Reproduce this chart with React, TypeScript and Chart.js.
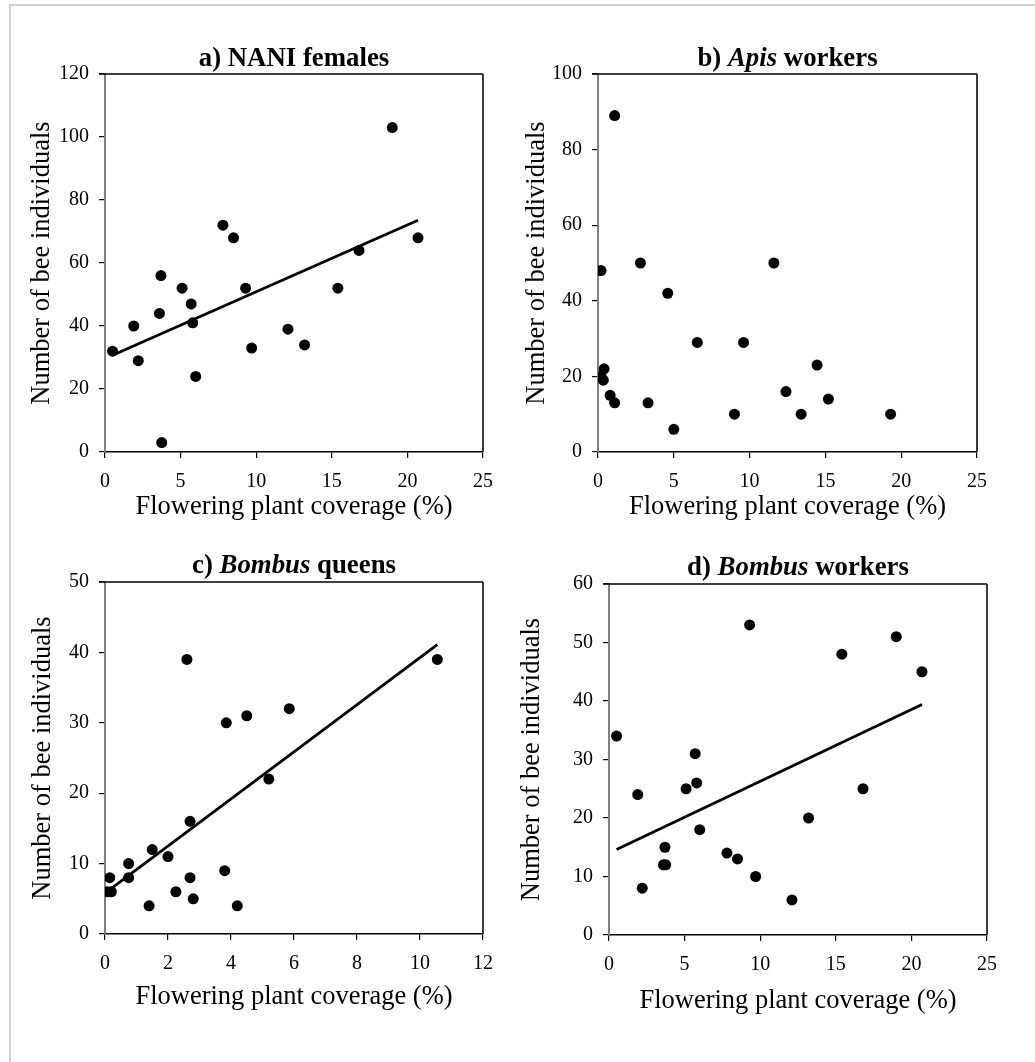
import React, { useEffect, useRef } from "react";
import { Chart, registerables } from "chart.js";

Chart.register(...registerables);

const SERIF = "'Liberation Serif', 'Times New Roman', Times, serif";

// ---------- Data ----------
// Flowering plant coverage (%) for the sites in panels a) and d)
const coverageAD = [0.5, 1.9, 2.2, 3.6, 3.7, 3.75, 5.1, 5.7, 5.8, 6.0, 7.8, 8.5, 9.3, 9.7, 12.1, 13.2, 15.4, 16.8, 19.0, 20.7];
const naniFemales = [32, 40, 29, 44, 56, 3, 52, 47, 41, 24, 72, 68, 52, 33, 39, 34, 52, 64, 103, 68];
const bombusWorkers = [34, 24, 8, 12, 15, 12, 25, 31, 26, 18, 14, 13, 53, 10, 6, 20, 48, 25, 51, 45];

const coverageB = [1.1, 0.2, 2.8, 4.6, 11.6, 6.55, 9.6, 14.45, 0.4, 0.2, 0.35, 0.8, 1.1, 3.3, 5.0, 9.0, 12.4, 13.4, 15.2, 19.3];
const apisWorkers = [89, 48, 50, 42, 50, 29, 29, 23, 22, 20, 19, 15, 13, 13, 6, 10, 16, 10, 14, 10];

const coverageC = [2.6, 10.55, 3.85, 4.5, 5.85, 5.2, 2.7, 1.5, 2.0, 0.75, 0.15, 0.75, 0.07, 0.2, 2.7, 3.8, 2.25, 2.8, 1.4, 4.2];
const bombusQueens = [39, 39, 30, 31, 32, 22, 16, 12, 11, 10, 8, 8, 6, 6, 8, 9, 6, 5, 4, 4];

// Regression lines (end points)
const trendAX = [0.5, 20.7];
const trendAY = [30.7, 73.6];
const trendCX = [0.15, 10.55];
const trendCY = [6.3, 41.1];
const trendDX = [0.5, 20.7];
const trendDY = [14.6, 39.4];

// Axis ranges / ticks
const xTicksAD = { max: 25, step: 5 };
const xTicksC = { max: 12, step: 2 };
const yTicksA = { max: 120, step: 20 };
const yTicksB = { max: 100, step: 20 };
const yTicksC = { max: 50, step: 10 };
const yTicksD = { max: 60, step: 10 };

const xAxisTitle = "Flowering plant coverage (%)";
const yAxisTitle = "Number of bee individuals";

const titleA = [{ text: "a) NANI females", italic: false }];
const titleB = [
  { text: "b) ", italic: false },
  { text: "Apis", italic: true },
  { text: " workers", italic: false },
];
const titleC = [
  { text: "c) ", italic: false },
  { text: "Bombus", italic: true },
  { text: " queens", italic: false },
];
const titleD = [
  { text: "d) ", italic: false },
  { text: "Bombus", italic: true },
  { text: " workers", italic: false },
];

// ---------- Layout ----------
const W = 1035;
const H = 1062;
const AXIS_TITLE_SIZE = 26.5;
const TITLE_SIZE = 26.8;

type Seg = { text: string; italic: boolean };
type PanelProps = {
  xs: number[];
  ys: number[];
  trendX?: number[];
  trendY?: number[];
  xt: { max: number; step: number };
  yt: { max: number; step: number };
  title: Seg[];
  box: { L: number; T: number; R: number; B: number };
  titleBaseline: number;
  yTitleX: number;
  xTitleY: number;
};

function Panel(p: PanelProps) {
  const ref = useRef<HTMLCanvasElement | null>(null);
  useEffect(() => {
    if (!ref.current) return;
    const { L, T, R, B } = p.box;
    const yW = 100;
    const xH = 90;
    const PL = L - yW;
    const lh = AXIS_TITLE_SIZE * 1.2;
    const yTitlePad = p.yTitleX - PL - lh / 2;
    const xTitlePad = B + xH - lh / 2 - p.xTitleY;

    const titlePlugin = {
      id: "richTitle",
      afterDraw(chart: any) {
        const ctx = chart.ctx;
        ctx.save();
        const fontFor = (it: boolean) => `${it ? "italic " : ""}bold ${TITLE_SIZE}px ${SERIF}`;
        let total = 0;
        const widths = p.title.map((s) => {
          ctx.font = fontFor(s.italic);
          const w = ctx.measureText(s.text).width;
          total += w;
          return w;
        });
        const { left, right } = chart.chartArea;
        let x = (left + right) / 2 - total / 2;
        ctx.fillStyle = "#000";
        ctx.textAlign = "left";
        ctx.textBaseline = "alphabetic";
        p.title.forEach((s, i) => {
          ctx.font = fontFor(s.italic);
          ctx.fillText(s.text, x, p.titleBaseline);
          x += widths[i];
        });
        ctx.restore();
      },
    };

    const framePlugin = {
      id: "plotFrame",
      afterDraw(chart: any) {
        const { left, right, top, bottom } = chart.chartArea;
        const ctx = chart.ctx;
        ctx.save();
        ctx.strokeStyle = "#000";
        ctx.lineWidth = 1.5;
        ctx.beginPath();
        ctx.moveTo(left - 6, top);
        ctx.lineTo(right, top);
        ctx.stroke();
        ctx.strokeStyle = "#3a3a3a";
        ctx.lineWidth = 2;
        ctx.beginPath();
        ctx.moveTo(right, top);
        ctx.lineTo(right, bottom);
        ctx.stroke();
        ctx.restore();
      },
    };

    const points = p.xs.map((x, i) => ({ x, y: p.ys[i] }));
    const datasets: any[] = [
      {
        data: points,
        backgroundColor: "#000",
        borderColor: "#000",
        pointRadius: 5.5,
        pointBorderWidth: 0,
        showLine: false,
        order: 1,
      },
    ];
    if (p.trendX && p.trendY) {
      datasets.push({
        data: p.trendX.map((x, i) => ({ x, y: p.trendY![i] })),
        borderColor: "#000",
        backgroundColor: "#000",
        borderWidth: 2.8,
        pointRadius: 0,
        showLine: true,
        order: 0,
      });
    }

    const tickFont = { family: SERIF, size: 20 };
    const titleFont = { family: SERIF, size: AXIS_TITLE_SIZE };

    const chart = new Chart(ref.current, {
      type: "scatter",
      data: { datasets },
      options: {
        animation: false,
        responsive: false,
        layout: {
          padding: { left: PL, top: T, right: W - R, bottom: H - B - xH },
        },
        plugins: {
          legend: { display: false },
          tooltip: { enabled: false },
          title: { display: false },
        },
        scales: {
          x: {
            type: "linear",
            min: 0,
            max: p.xt.max,
            ticks: {
              stepSize: p.xt.step,
              color: "#000",
              font: tickFont,
              padding: 12,
              maxRotation: 0,
              autoSkip: false,
            },
            grid: { drawOnChartArea: false, drawTicks: true, tickLength: 6, color: "#000", lineWidth: 1.2 },
            border: { display: true, color: "#000", width: 1.5 },
            title: {
              display: true,
              text: xAxisTitle,
              color: "#000",
              font: titleFont,
              padding: { top: 0, bottom: xTitlePad },
            },
            afterFit: (s: any) => {
              s.height = xH;
            },
          },
          y: {
            type: "linear",
            min: 0,
            max: p.yt.max,
            ticks: {
              stepSize: p.yt.step,
              color: "#000",
              font: tickFont,
              padding: 10,
              autoSkip: false,
            },
            grid: { drawOnChartArea: false, drawTicks: true, tickLength: 6, color: "#000", lineWidth: 1.2 },
            border: { display: true, color: "#808080", width: 2 },
            title: {
              display: true,
              text: yAxisTitle,
              color: "#000",
              font: titleFont,
              padding: { top: yTitlePad, bottom: 0 },
            },
            afterFit: (s: any) => {
              s.width = yW;
            },
          },
        },
      },
      plugins: [titlePlugin, framePlugin],
    } as any);
    return () => chart.destroy();
  }, []);
  return (
    <canvas
      ref={ref}
      width={W}
      height={H}
      style={{ position: "absolute", left: 0, top: 0, width: W, height: H }}
    />
  );
}

export default function App() {
  return (
    <div
      style={{
        position: "absolute",
        left: 0,
        top: 0,
        width: W,
        height: H,
        background: "#fff",
        overflow: "hidden",
      }}
    >
      <div style={{ position: "absolute", left: 9, top: 4, width: W - 9, height: 2, background: "#d0d0d0" }} />
      <div style={{ position: "absolute", left: 9, top: 4, width: 2, height: H - 4, background: "#d0d0d0" }} />
      <Panel
        xs={coverageAD}
        ys={naniFemales}
        trendX={trendAX}
        trendY={trendAY}
        xt={xTicksAD}
        yt={yTicksA}
        title={titleA}
        box={{ L: 105, T: 74, R: 483, B: 452 }}
        titleBaseline={66}
        yTitleX={42}
        xTitleY={507}
      />
      <Panel
        xs={coverageB}
        ys={apisWorkers}
        xt={xTicksAD}
        yt={yTicksB}
        title={titleB}
        box={{ L: 598, T: 74, R: 977, B: 452 }}
        titleBaseline={66}
        yTitleX={537}
        xTitleY={507}
      />
      <Panel
        xs={coverageC}
        ys={bombusQueens}
        trendX={trendCX}
        trendY={trendCY}
        xt={xTicksC}
        yt={yTicksC}
        title={titleC}
        box={{ L: 105, T: 582, R: 483, B: 934 }}
        titleBaseline={573}
        yTitleX={43}
        xTitleY={997}
      />
      <Panel
        xs={coverageAD}
        ys={bombusWorkers}
        trendX={trendDX}
        trendY={trendDY}
        xt={xTicksAD}
        yt={yTicksD}
        title={titleD}
        box={{ L: 609, T: 584, R: 987, B: 935 }}
        titleBaseline={575}
        yTitleX={532}
        xTitleY={1001}
      />
    </div>
  );
}
